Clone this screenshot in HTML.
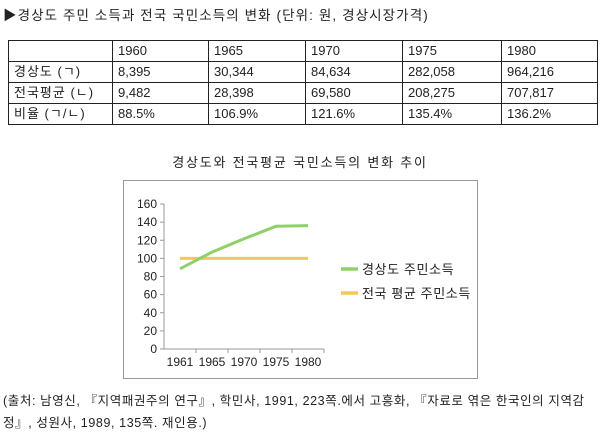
<!DOCTYPE html>
<html><head><meta charset="utf-8"><style>
body{margin:0;background:#fff;width:600px;height:444px;overflow:hidden;font-family:"Liberation Sans","Noto Sans CJK KR",sans-serif;color:#222}
.t{position:absolute;white-space:nowrap}
table{position:absolute;left:8px;top:40px;border-collapse:collapse;font-size:13px}
td{border:1px solid #222;height:20px;padding:0 0 0 5px;line-height:20px}
</style></head><body>
<div class="t" style="left:3px;top:4px;font-size:13.5px;letter-spacing:1.1px">▶경상도 주민 소득과 전국 국민소득의 변화 (단위: 원, 경상시장가격)</div>
<table>
<tr><td style="width:98px"></td><td style="width:90px">1960</td><td style="width:91px">1965</td><td style="width:91px">1970</td><td style="width:93px">1975</td><td style="width:90px">1980</td></tr>
<tr><td style="letter-spacing:1px">경상도 (ㄱ)</td><td>8,395</td><td>30,344</td><td>84,634</td><td>282,058</td><td>964,216</td></tr>
<tr><td style="letter-spacing:1px">전국평균 (ㄴ)</td><td>9,482</td><td>28,398</td><td>69,580</td><td>208,275</td><td>707,817</td></tr>
<tr><td style="letter-spacing:1px">비율 (ㄱ/ㄴ)</td><td>88.5%</td><td>106.9%</td><td>121.6%</td><td>135.4%</td><td>136.2%</td></tr>
</table>
<div class="t" style="left:0;width:600px;text-align:center;top:152px;font-size:13px;letter-spacing:1.8px">경상도와 전국평균 국민소득의 변화 추이</div>
<svg id="c" width="600" height="444" style="position:absolute;left:0;top:0"></svg>
<div class="t" style="left:3px;top:390px;font-size:12.5px;line-height:22px;letter-spacing:0.6px">(출처: 남영신, 『지역패권주의 연구』, 학민사, 1991, 223쪽.에서 고흥화, 『자료로 엮은 한국인의 지역감<br>정』, 성원사, 1989, 135쪽. 재인용.)</div>
<script>
const categories=["1961","1965","1970","1975","1980"];
const gyeongsang=[88.5,106.9,121.6,135.4,136.2];
const national=[100,100,100,100,100];
const yTicks=[0,20,40,60,80,100,120,140,160];
const svg=document.getElementById('c');const NS='http://www.w3.org/2000/svg';
function mk(t,a,p){const e=document.createElementNS(NS,t);for(const k in a)e.setAttribute(k,a[k]);(p||svg).appendChild(e);return e;}
const x0=164,x1=324,y0=349,y1=204;
const bw=(x1-x0)/categories.length;
const xs=i=>x0+bw*(i+0.5);
const ys=v=>y0-(v/160)*(y0-y1);
const box=mk('rect',{x:123.5,y:180.5,width:354,height:198,fill:'none',stroke:'#999'});


mk('line',{x1:x0,y1:y1,x2:x0,y2:y0,stroke:'#999'});
mk('line',{x1:x0,y1:y0,x2:x1,y2:y0,stroke:'#999'});
yTicks.forEach(v=>{
 mk('line',{x1:x0-4,y1:ys(v),x2:x0,y2:ys(v),stroke:'#999'});
 const t=mk('text',{x:x0-7,y:ys(v)+4,'text-anchor':'end','font-size':'12','fill':'#222'});
 t.textContent=v;
 
 
});
categories.forEach((c,i)=>{
 mk('line',{x1:x0+bw*(i+1),y1:y0,x2:x0+bw*(i+1),y2:y0+4,stroke:'#999'});
 const t=mk('text',{x:xs(i),y:y0+17,'text-anchor':'middle','font-size':'12','fill':'#222'});
 t.textContent=c;
 
 
});
function line(arr,col,name){
 const p=mk('polyline',{points:arr.map((v,i)=>xs(i)+','+ys(v)).join(' '),fill:'none',stroke:col,'stroke-width':3});
 
 
}
line(national,'#f2c75c','national-line');
line(gyeongsang,'#8fd06a','gyeongsang-line');
[['#8fd06a','경상도 주민소득',269],['#f2c75c','전국 평균 주민소득',293]].forEach(([c,l,y])=>{
 const g=mk('g',{});
 
 
 mk('line',{x1:341,y1:y,x2:358,y2:y,stroke:c,'stroke-width':3.5},g);
 const t=mk('text',{x:362,y:y+5,'font-size':'13','fill':'#222','letter-spacing':'0.6'},g);t.textContent=l;
});
</script>
</body></html>
